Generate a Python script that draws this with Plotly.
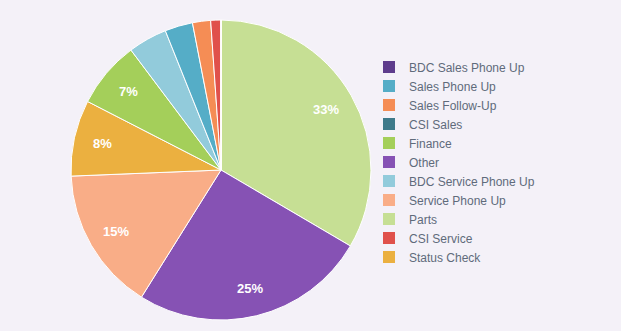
import math
import plotly.graph_objects as go

# Legend order (as listed in the reference legend)
legend_labels = [
    "BDC Sales Phone Up", "Sales Phone Up", "Sales Follow-Up", "CSI Sales",
    "Finance", "Other", "BDC Service Phone Up", "Service Phone Up",
    "Parts", "CSI Service", "Status Check",
]
legend_colors = [
    "#5e3c8c", "#55adc7", "#f58d55", "#3e7a8a",
    "#a4cf5a", "#8652b4", "#92cbdb", "#f9ad87",
    "#c6df94", "#e0514b", "#ebb040",
]
# Estimated counts per category (same order as legend_labels)
values = [0, 60, 39, 0, 144, 509, 84, 309, 669, 22, 164]

W, H = 621, 331
CX, CY, R = 221, 170, 150          # pie centre / radius in pixels
LABEL_R = 0.81                      # label distance as fraction of radius

total = sum(values)

fig = go.Figure()

# Hidden, tiny pie (covered by the main pie) used only to produce the legend in the reference's order
fig.add_trace(go.Pie(
    labels=legend_labels,
    values=[1] * len(legend_labels),
    marker=dict(colors=legend_colors, line=dict(color="#ffffff", width=0)),
    sort=False,
    textinfo="none",
    hoverinfo="skip",
    showlegend=True,
    domain=dict(x=[0.345, 0.367], y=[0.475, 0.498]),
))

# Visible pie, slices sorted descending clockwise from 12 o'clock
fig.add_trace(go.Pie(
    labels=legend_labels,
    values=values,
    textinfo="none",
    marker=dict(colors=legend_colors, line=dict(color="#ffffff", width=1)),
    sort=True,
    direction="clockwise",
    showlegend=False,
    domain=dict(x=[(CX - R) / W, (CX + R) / W], y=[(H - CY - R) / H, (H - CY + R) / H]),
))

# Percentage labels placed along each slice's bisector (slices >= 5%)
order = sorted(range(len(values)), key=lambda i: -values[i])
cum = 0.0
for i in order:
    frac = values[i] / total
    mid = (cum + frac / 2) * 2 * math.pi
    cum += frac
    if frac < 0.05:
        continue
    fig.add_annotation(
        x=CX / W, y=(H - CY) / H, xref="paper", yref="paper",
        xshift=LABEL_R * R * math.sin(mid), yshift=LABEL_R * R * math.cos(mid),
        text="%d%%" % round(frac * 100), showarrow=False,
        font=dict(family="Liberation Sans, Arial, sans-serif", size=13, color="#ffffff", weight="bold"),
    )

fig.update_layout(
    width=W,
    height=H,
    margin=dict(l=0, r=0, t=0, b=0),
    paper_bgcolor="#f4f1f8",
    plot_bgcolor="#f4f1f8",
    font=dict(family="Liberation Sans, Arial, sans-serif", size=12, color="#5f6b7b"),
    legend=dict(
        x=369 / W, xanchor="left",
        y=(H - 162) / H, yanchor="middle",
        bgcolor="rgba(0,0,0,0)",
        font=dict(size=12, color="#5f6b7b"),
    ),
)

fig.write_html("out.html")
